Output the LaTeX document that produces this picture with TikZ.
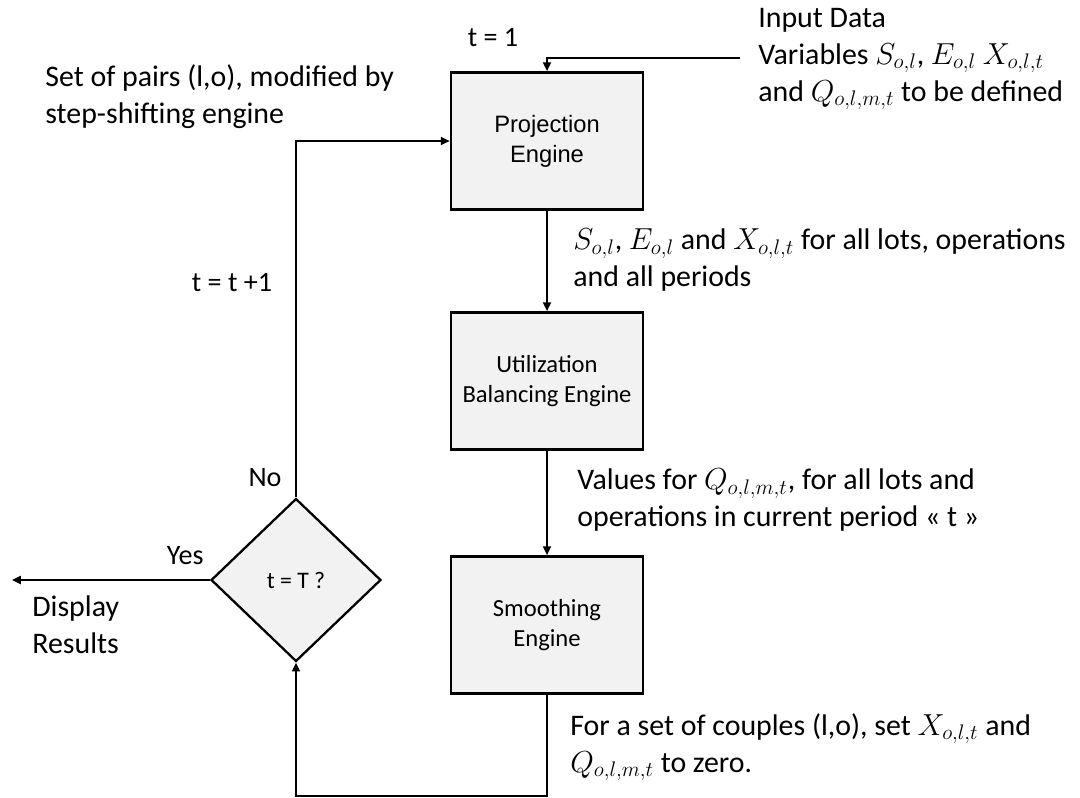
\documentclass[tikz,border=0pt]{standalone}
\usepackage{fontspec}
\usepackage{amssymb,amsmath}
\setmainfont{Carlito}
\newfontfamily\arialfont{Liberation Sans}
\usetikzlibrary{shapes.geometric,arrows.meta}
\definecolor{boxgray}{RGB}{242,242,242}

\begin{document}
\begin{tikzpicture}[x=0.02cm,y=-0.02cm,
  engine/.style={draw,line width=1.5pt,fill=boxgray,minimum width=3.84cm,minimum height=2.74cm,align=center,font=\fontsize{14}{17}\selectfont},
  test/.style={diamond,draw,line width=1.3pt,fill=boxgray,minimum width=3.4cm,minimum height=3.26cm,inner sep=0pt,font=\fontsize{13.5}{16}\selectfont},
  note/.style={anchor=west,align=left,inner sep=0pt,font=\fontsize{17}{21}\selectfont},
  tag/.style={inner sep=0pt,font=\fontsize{16}{19}\selectfont},
  flow/.style={line width=1.15pt,-{Triangle[length=5pt,width=4.5pt]}}]
\useasboundingbox (0,0) rectangle (1080,798);

% the three engines and the end test
\node[engine,font=\arialfont\fontsize{13.5}{17}\selectfont] (proj) at (547,141) {Projection\\Engine};
\node[engine] (util) at (547,381) {Utilization\\Balancing Engine};
\node[engine] (smooth) at (547,625) {Smoothing\\Engine};
\node[test] (check) at (296,580) {t = T ?};

\coordinate (insrc) at (740,58);
\coordinate (done) at (12,580);
\coordinate (low) at (547,796);

\draw[flow] (insrc) -| (proj.north);
\foreach \a/\b in {proj/util, util/smooth}
  \draw[flow] (\a) -- (\b);
\draw[flow] (check.north) |- (proj.west);
\draw[flow] (check.west) -- (done);
\draw[flow] (smooth.south) -- (low) -| (check.south);

% labels on the loop
\node[tag] (tone) at (493,38) {t = 1};
\node[tag] (tnext) at (232,283) {t = t +1};
\node[tag] (no) at (265,478) {No};
\node[tag,anchor=east] (yes) at (204,556) {Yes};

% notes
\node[note] (indata) at (758,59) {Input Data\\Variables $S_{o,l}$, $E_{o,l}$ $X_{o,l,t}$\\and $Q_{o,l,m,t}$ to be defined};
\node[note] (pairs) at (45,97) {Set of pairs (l,o), modified by\\step-shifting engine};
\node[note] (projout) at (573,260) {$S_{o,l}$, $E_{o,l}$ and $X_{o,l,t}$ for all lots, operations\\and all periods};
\node[note] (utilout) at (577,500) {Values for $Q_{o,l,m,t}$, for all lots and\\operations in current period « t »};
\node[note] (smoothout) at (570,747) {For a set of couples (l,o), set $X_{o,l,t}$ and\\$Q_{o,l,m,t}$ to zero.};
\node[note] (display) at (32,625) {Display\\Results};
\end{tikzpicture}
\end{document}
